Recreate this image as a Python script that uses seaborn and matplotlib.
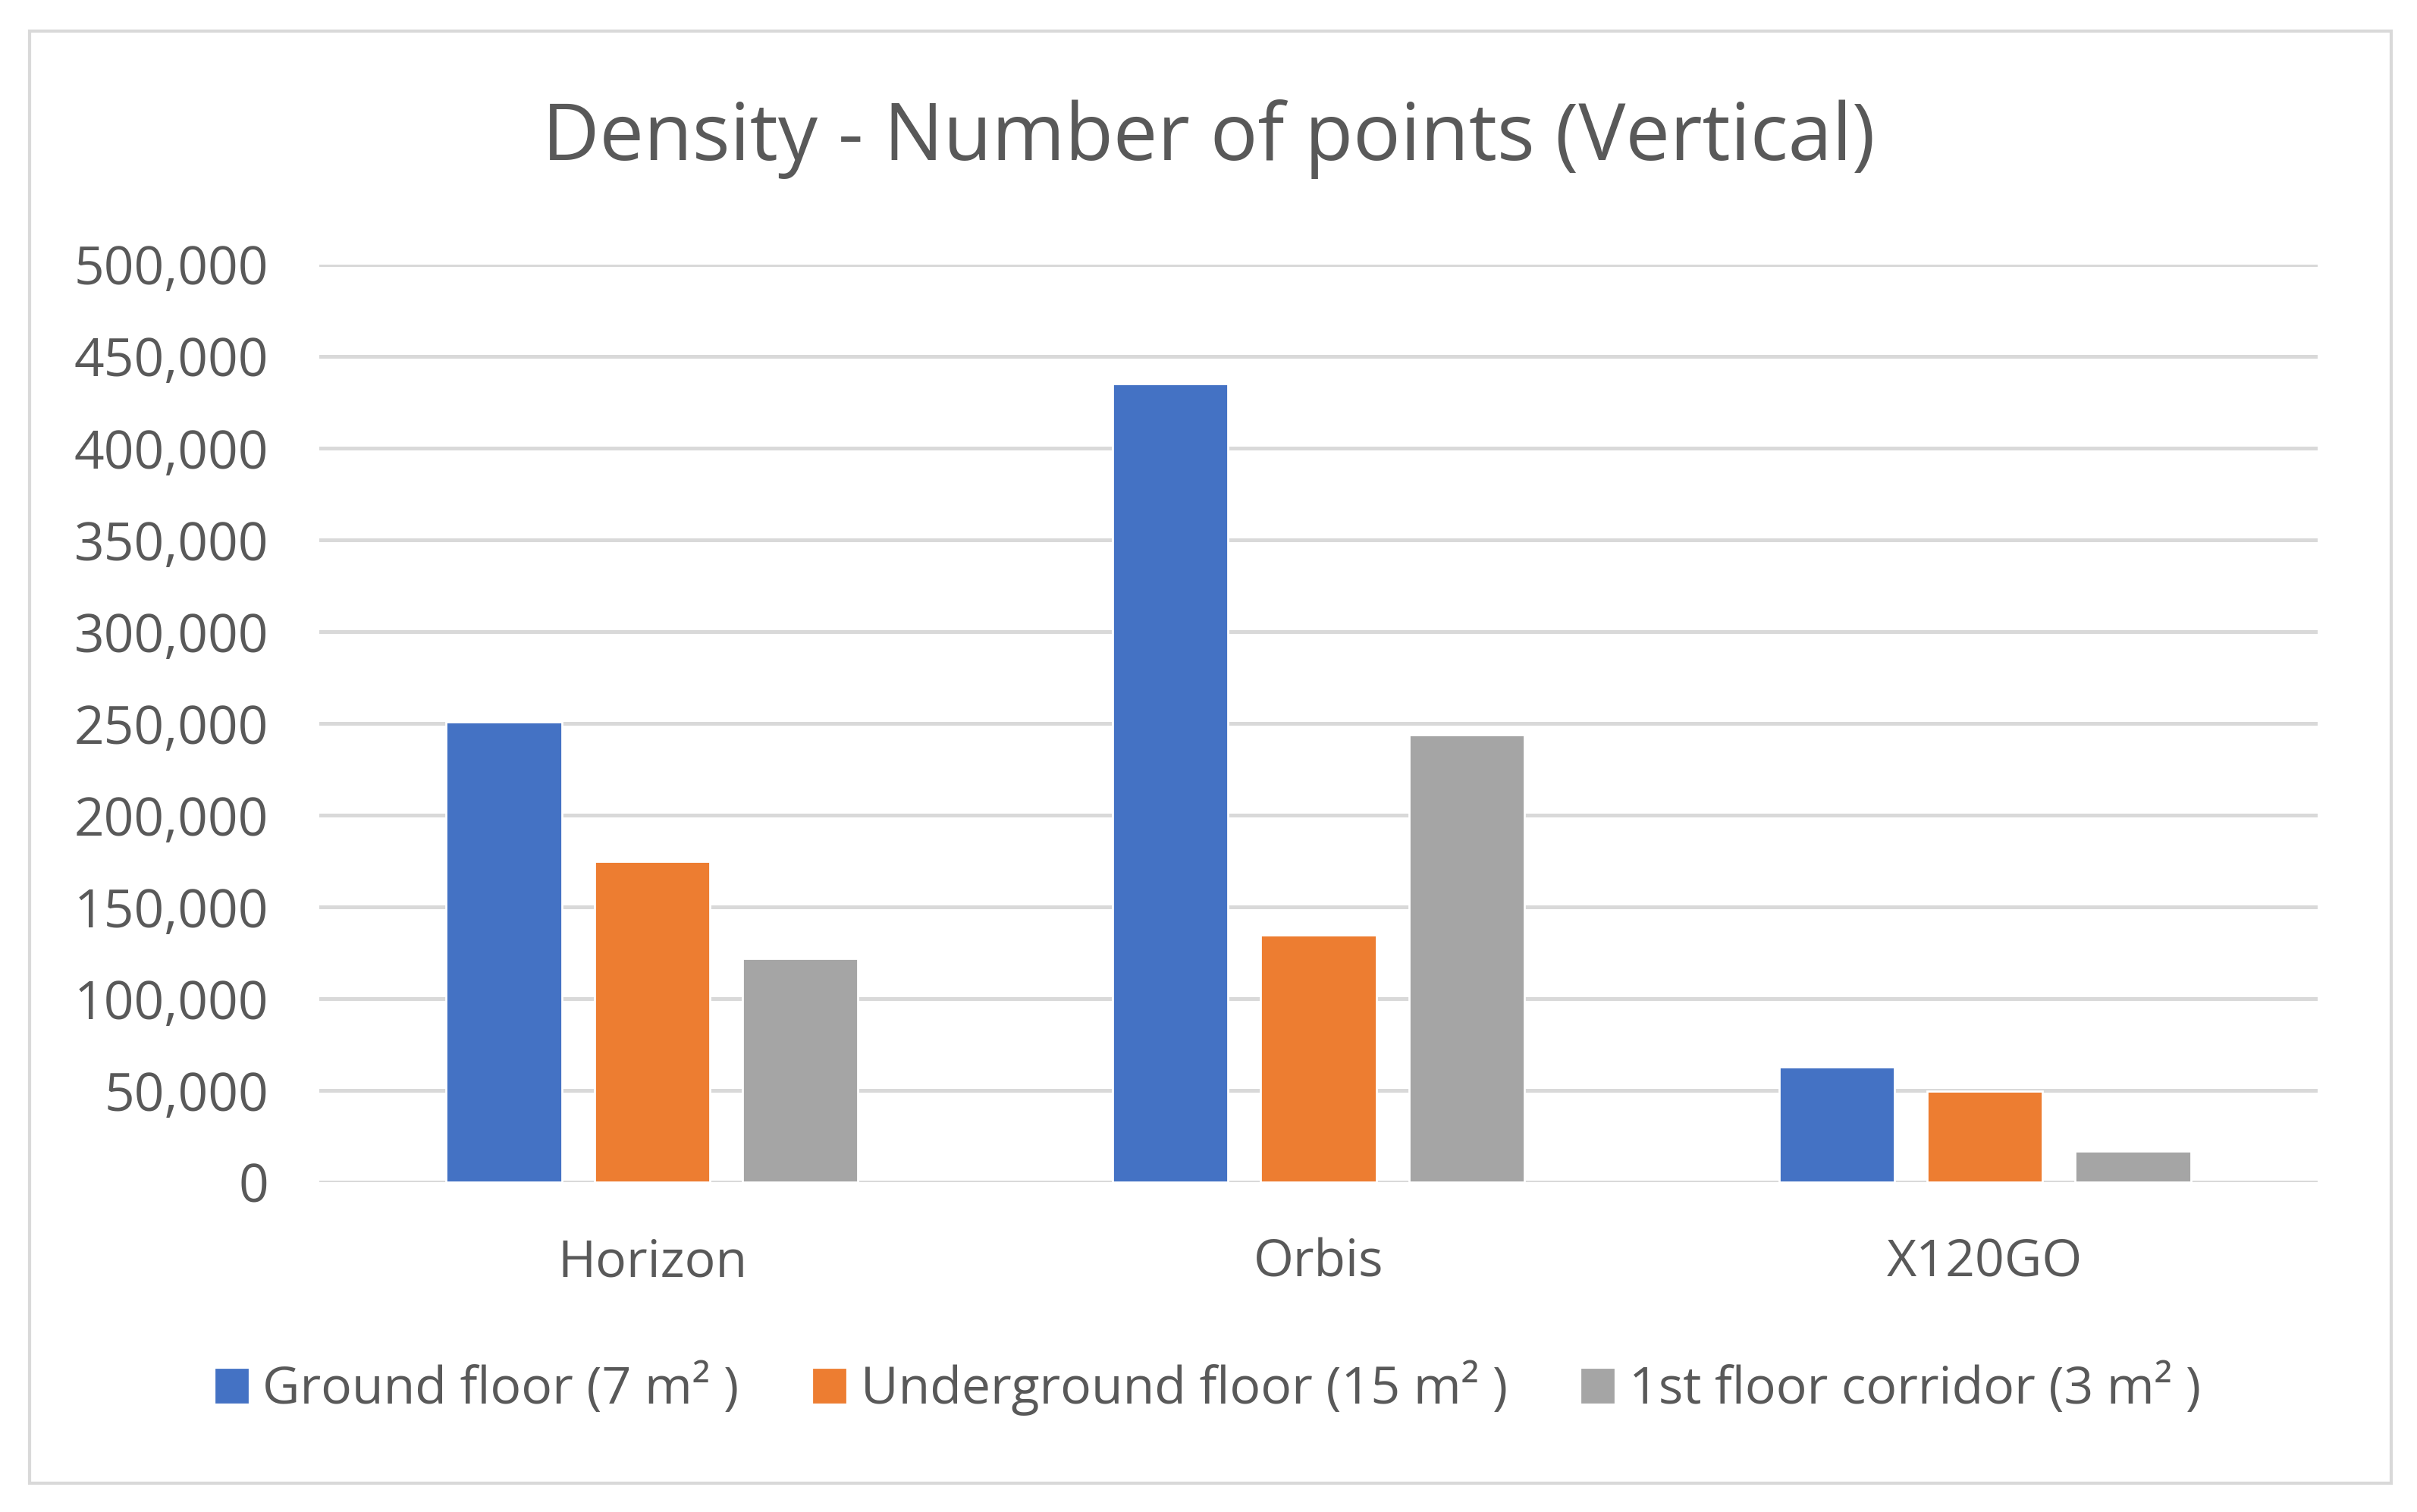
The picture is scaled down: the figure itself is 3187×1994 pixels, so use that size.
import pandas as pd
import matplotlib.pyplot as plt
import matplotlib.patches as mpatches
import seaborn as sns

# Chart values
devices = ["Horizon", "Orbis", "X120GO"]
series = ["Ground floor (7 m² )", "Underground floor (15 m² )", "1st floor corridor (3 m² )"]
ground = [251000, 435000, 63000]
underground = [175000, 135000, 49500]
corridor = [122000, 244000, 17000]
colors = ["#4472C4", "#ED7D31", "#A5A5A5"]
yticks = [0, 50000, 100000, 150000, 200000, 250000, 300000, 350000, 400000, 450000, 500000]

# Long-form table for seaborn
rows = []
for name, vals in zip(series, [ground, underground, corridor]):
    for dev, v in zip(devices, vals):
        rows.append({"Device": dev, "Area": name, "Points": v})
df = pd.DataFrame(rows)

sns.set_style("white")
plt.rcParams["font.family"] = ["Open Sans", "DejaVu Sans"]
text_color = "#595959"

fig = plt.figure(figsize=(3187 / 200, 1994 / 200), dpi=200)
ax = fig.add_axes([0.132, 0.218, 0.827, 0.607])

sns.barplot(data=df, x="Device", y="Points", hue="Area", palette=colors,
            width=0.667, gap=0.22, saturation=1, ax=ax, legend=True)

ax.set_ylim(0, 500000)
ax.set_yticks(yticks)
ax.set_yticklabels([f"{t:,}" for t in yticks])
ax.yaxis.grid(True, color="#D9D9D9", linewidth=1.8)
ax.set_axisbelow(True)
for s in ax.spines.values():
    s.set_visible(False)
ax.tick_params(axis="y", length=0, labelsize=25, colors=text_color, pad=24)
ax.tick_params(axis="x", length=0, labelsize=24.5, colors=text_color, pad=26)
ax.set_xlabel("")
ax.set_ylabel("")

fig.text(0.5, 0.908, "Density - Number of points (Vertical)", ha="center", va="center",
         fontsize=37.5, color=text_color)

handles = [mpatches.Patch(color=c, label=s) for c, s in zip(colors, series)]
ax.get_legend().remove()
fig.legend(handles=handles, loc="center", bbox_to_anchor=(0.5, 0.082), ncol=3,
           frameon=False, fontsize=24.5, labelcolor=text_color,
           handlelength=0.6, handleheight=0.6, handletextpad=0.3, columnspacing=1.45)

# Outer chart border
fig.patches.append(mpatches.Rectangle((39 / 3187, 1 - 1956 / 1994), (3153 - 39) / 3187,
                                      (1956 - 41) / 1994, transform=fig.transFigure,
                                      fill=False, edgecolor="#D9D9D9", linewidth=1.5))

plt.savefig("out.png", dpi=200)
plt.close()
